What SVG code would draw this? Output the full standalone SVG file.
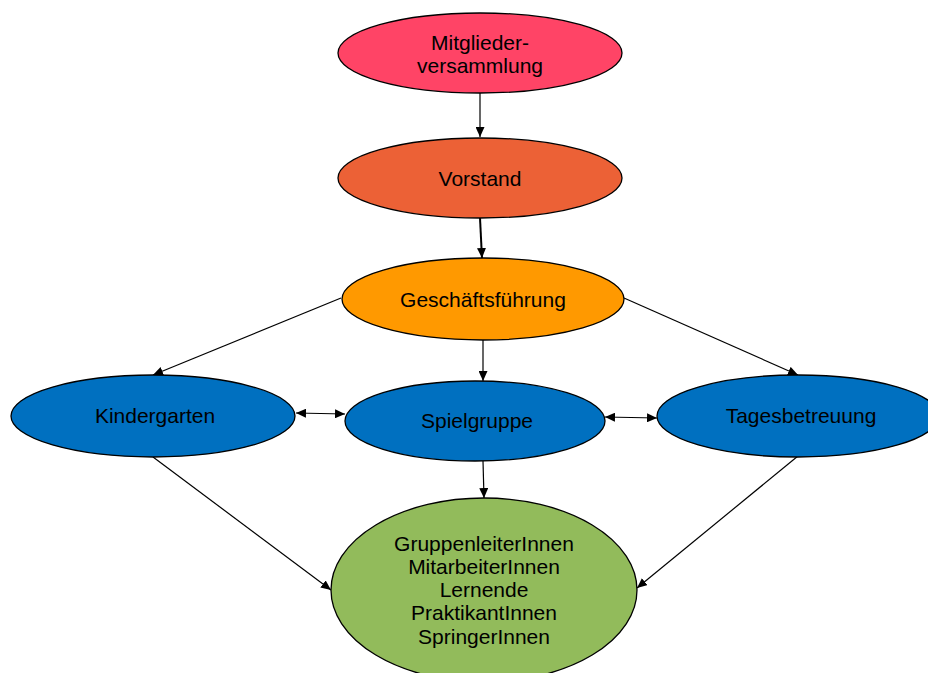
<svg xmlns="http://www.w3.org/2000/svg" width="928" height="673" viewBox="0 0 928 673">
<defs>
<marker id="ah" viewBox="0 0 10 10" refX="10" refY="5" markerWidth="10" markerHeight="9" markerUnits="userSpaceOnUse" orient="auto-start-reverse" preserveAspectRatio="none">
<path d="M0,0 L10,5 L0,10 z" fill="#000"/>
</marker>
<style>
ellipse{stroke:#000;stroke-width:1.3}
text{font-family:"Liberation Sans",Arial,sans-serif;font-size:21px;fill:#000;text-anchor:middle}
.c line{stroke:#000;stroke-width:1.2;fill:none}
</style>
</defs>
<rect width="928" height="673" fill="#fff"/>
<g class="c" id="connectors">
<line x1="480" y1="93" x2="480" y2="137" marker-end="url(#ah)"/>
<line x1="480" y1="218" x2="482" y2="258" marker-end="url(#ah)" style="stroke-width:2"/>
<line x1="341" y1="298" x2="153" y2="375" marker-end="url(#ah)"/>
<line x1="483" y1="340" x2="483" y2="381" marker-end="url(#ah)"/>
<line x1="624" y1="298" x2="798" y2="375" marker-end="url(#ah)"/>
<line x1="296" y1="413" x2="345" y2="414" marker-start="url(#ah)" marker-end="url(#ah)"/>
<line x1="605" y1="417" x2="657" y2="418" marker-start="url(#ah)" marker-end="url(#ah)"/>
<line x1="153" y1="457" x2="331" y2="590" marker-end="url(#ah)"/>
<line x1="483" y1="461" x2="484" y2="498" marker-end="url(#ah)"/>
<line x1="798" y1="456" x2="637" y2="588" marker-end="url(#ah)"/>
</g>
<g id="mitglieder">
<ellipse cx="480" cy="53" rx="142" ry="40" fill="#FF4466"/>
<text x="480" y="50">Mitglieder-</text>
<text x="480" y="73">versammlung</text>
</g>
<g id="vorstand">
<ellipse cx="480" cy="178" rx="142" ry="40" fill="#EC6136"/>
<text x="480" y="186">Vorstand</text>
</g>
<g id="geschaeftsfuehrung">
<ellipse cx="483" cy="299" rx="141" ry="41" fill="#FF9900"/>
<text x="483" y="307">Geschäftsführung</text>
</g>
<g id="kindergarten">
<ellipse cx="153" cy="416" rx="142" ry="41" fill="#0070C0"/>
<text x="155" y="423">Kindergarten</text>
</g>
<g id="spielgruppe">
<ellipse cx="475" cy="421" rx="130" ry="40" fill="#0070C0"/>
<text x="477" y="428">Spielgruppe</text>
</g>
<g id="tagesbetreuung">
<ellipse cx="798" cy="416" rx="141" ry="41" fill="#0070C0"/>
<text x="801" y="423">Tagesbetreuung</text>
</g>
<g id="mitarbeitende">
<ellipse cx="484" cy="590" rx="153" ry="92" fill="#92BB5B"/>
<text x="484" y="551">GruppenleiterInnen</text>
<text x="484" y="574">MitarbeiterInnen</text>
<text x="484" y="597">Lernende</text>
<text x="484" y="620">PraktikantInnen</text>
<text x="484" y="644">SpringerInnen</text>
</g>
</svg>
